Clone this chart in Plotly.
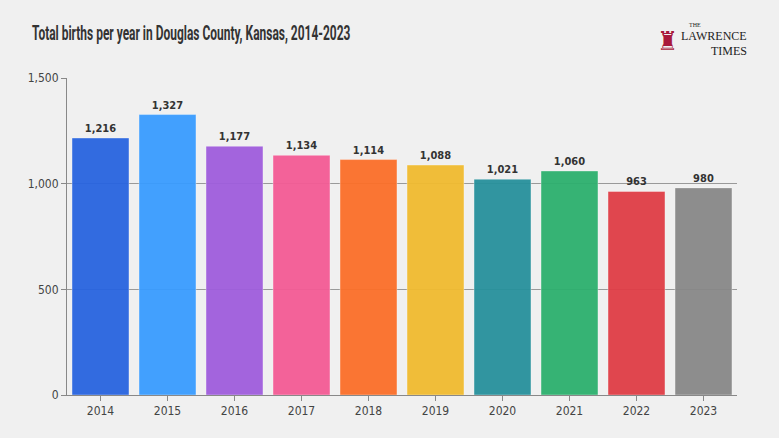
import plotly.graph_objects as go

years = ["2014", "2015", "2016", "2017", "2018", "2019", "2020", "2021", "2022", "2023"]
births = [1216, 1327, 1177, 1134, 1114, 1088, 1021, 1060, 963, 980]
bar_colors = ["#2864e0", "#399cff", "#9f5ddd", "#f45b95", "#fb6f29",
              "#f1bb30", "#27919c", "#2db06e", "#e03d46", "#888888"]
y_ticks = [0, 500, 1000, 1500]
y_tick_text = ["0", "500", "1,000", "1,500"]

font_fam = "DejaVu Sans Condensed, Roboto, sans-serif"

fig = go.Figure(
    go.Bar(
        x=years,
        y=births,
        marker=dict(color=bar_colors, opacity=0.95,
                    line=dict(color="rgba(255,255,255,0.35)", width=1)),
        text=[f"{v:,}" for v in births],
        textposition="outside",
        textfont=dict(family=font_fam, size=11, color="#333333", weight="bold"),
        cliponaxis=False,
    )
)

fig.update_layout(
    width=779, height=438,
    paper_bgcolor="#f0f0f0", plot_bgcolor="#f0f0f0",
    margin=dict(l=67, r=42, t=78, b=43),
    bargap=0.15,
    showlegend=False,
    font=dict(family=font_fam, color="#333333", size=12),
    title=dict(text="<b>Total births per year in Douglas County, Kansas, 2014-2023</b>",
               x=32 / 779, xanchor="left", y=1 - 33 / 438, yanchor="middle",
               font=dict(family="Roboto, sans-serif", size=21, color="#333333")),
    xaxis=dict(showgrid=False, showline=True, linecolor="#888888", linewidth=1,
               ticks="outside", ticklen=5, tickcolor="#888888",
               tickfont=dict(size=12, color="#444444")),
    yaxis=dict(range=[0, 1500], tickvals=y_ticks, ticktext=y_tick_text,
               showgrid=True, gridcolor="#999999", gridwidth=1,
               showline=True, linecolor="#888888", linewidth=1,
               ticks="outside", ticklen=5, tickcolor="#888888",
               zeroline=False, tickfont=dict(size=12, color="#444444")),
)


# logo, placed in page pixels (paper coords span the plot area 67..737 x 78..395)
def px(x):
    return (x - 67) / 670


def py(y):
    return (395 - y) / 317


serif = "Liberation Serif, serif"
fig.add_annotation(x=px(688), y=py(29), xref="paper", yref="paper",
                   xanchor="left", yanchor="bottom", showarrow=False, borderpad=0,
                   text="THE", font=dict(family=serif, size=6, color="#222222"))
fig.add_annotation(x=px(748), y=py(28), xref="paper", yref="paper",
                   xanchor="right", yanchor="top", showarrow=False, borderpad=0,
                   text="LAWRENCE", font=dict(family=serif, size=12, color="#222222"))
fig.add_annotation(x=px(748), y=py(43), xref="paper", yref="paper",
                   xanchor="right", yanchor="top", showarrow=False, borderpad=0,
                   text="TIMES", font=dict(family=serif, size=12, color="#222222"))
fig.add_annotation(x=px(667), y=py(41), xref="paper", yref="paper",
                   xanchor="center", yanchor="middle", showarrow=False, borderpad=0,
                   text="♜", font=dict(size=26, color="#a8193a"))

# squeeze the title to look like the condensed face of the original
squeeze = """
document.body.style.margin='0';
document.body.style.background='#f0f0f0';
var t = document.querySelector('.gtitle');
if (t) {
  var x0 = parseFloat(t.getAttribute('x')) || 0;
  var s = 0.57;
  t.setAttribute('transform', 'translate(' + (x0 * (1 - s)) + ',0) scale(' + s + ',1)');
}
"""

fig.write_html("out.html", post_script=squeeze, config={"displayModeBar": False})
